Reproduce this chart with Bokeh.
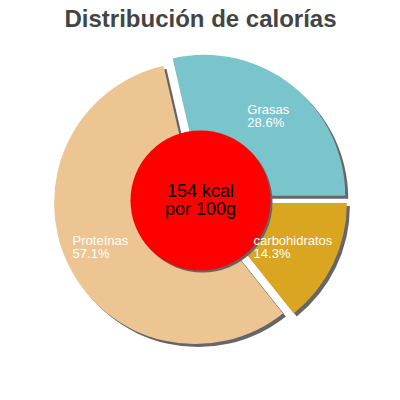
import numpy as np
from bokeh.plotting import figure
from bokeh.models import Range1d
from bokeh.core.properties import value
from bokeh.embed import file_html
from bokeh.resources import INLINE

title = "Distribución de calorías"
labels = ["Grasas", "Proteínas", "carbohidratos"]
values = [28.6, 57.1, 14.3]
colors = ["#7AC4CC", "#EDC592", "#DAA520"]
center_lines = ["154 kcal", "por 100g"]

# geometry (screen px; data y = 400 - screen y)
CX, CY = 200, 200
R = 141
EXPLODE = 6
HOLE_R = 70
SHADOW = 3
LABEL_R = 108

W = H = 384
p = figure(width=W, height=H, output_backend="svg", toolbar_location=None,
           x_range=Range1d(0, 384), y_range=Range1d(16, 400),
           min_border=0, outline_line_color=None)
p.axis.visible = False
p.grid.visible = False
p.background_fill_color = "white"
p.border_fill_color = "white"

cy = 400 - CY
vals = np.array(values)
frac = vals / vals.sum()
ends = np.cumsum(frac) * 2 * np.pi
starts = ends - frac * 2 * np.pi
mids = (starts + ends) / 2
xs = CX + EXPLODE * np.cos(mids)
ys = cy + EXPLODE * np.sin(mids)

# shadows
p.wedge(x=xs + SHADOW, y=ys - SHADOW, radius=R, start_angle=starts, end_angle=ends,
        fill_color="#666666", line_color=None)
p.wedge(x=xs, y=ys, radius=R, start_angle=starts, end_angle=ends,
        fill_color=colors, line_color=None)

# center circle
p.circle(x=[CX + 2], y=[cy - 2], radius=HOLE_R, fill_color="#666666", line_color=None)
p.circle(x=[CX], y=[cy], radius=HOLE_R, fill_color="#FF0000", line_color=None)

# labels
font = value("Liberation Sans")
for lab, f, m in zip(labels, frac, mids):
    lx = CX + LABEL_R * np.cos(m)
    ly = cy + LABEL_R * np.sin(m)
    pct = f"{f*100:.1f}%"
    w = 6.8 * max(len(lab), len(pct))
    p.text(x=[lx - w / 2], y=[ly], text=[lab], text_font=font, text_font_size="13px",
           text_color="white", text_align="left", text_baseline="bottom", y_offset=1)
    p.text(x=[lx - w / 2], y=[ly], text=[pct], text_font=font, text_font_size="13px",
           text_color="white", text_align="left", text_baseline="top", y_offset=-1)

p.text(x=[CX, CX], y=[cy + 10, cy - 8], text=center_lines, text_font=font,
       text_font_size="18px", text_color="black", text_align="center",
       text_baseline="middle")

p.text(x=[200], y=[400 - 18], text=[title], text_font=font, text_font_size="24px",
       text_font_style="bold", text_color="#444444", text_align="center",
       text_baseline="middle")

open("out.html", "w").write(file_html(p, INLINE))
